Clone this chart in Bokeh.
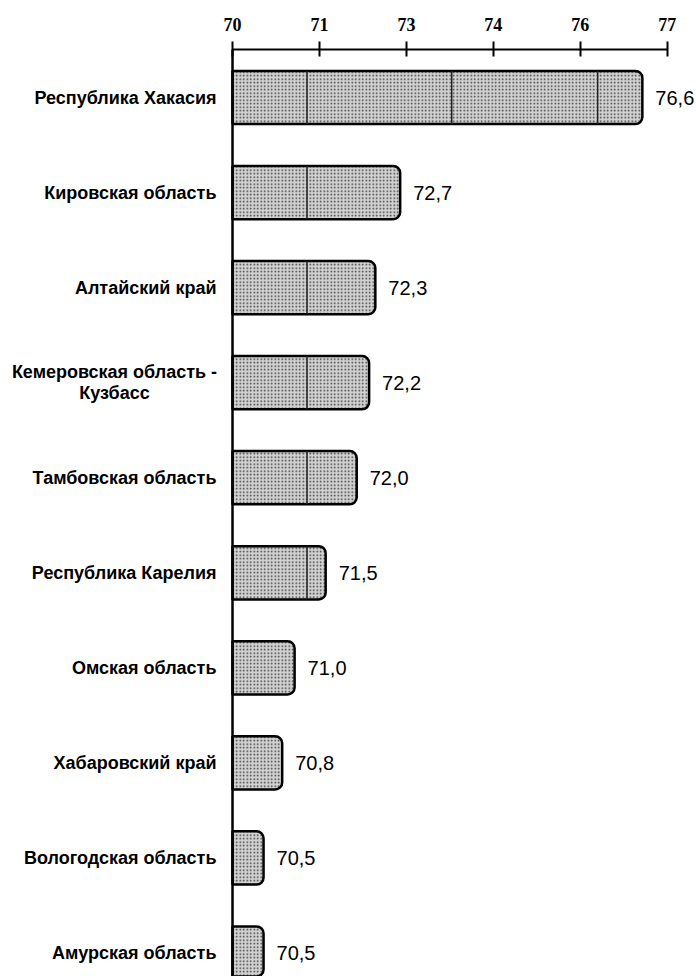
from bokeh.plotting import figure
from bokeh.models import ColumnDataSource, LabelSet, FixedTicker, Range1d, Span
from bokeh.embed import file_html
from bokeh.resources import INLINE
from bokeh.core.properties import value

regions = [
    "Республика Хакасия",
    "Кировская область",
    "Алтайский край",
    "Кемеровская область -\nКузбасс",
    "Тамбовская область",
    "Республика Карелия",
    "Омская область",
    "Хабаровский край",
    "Вологодская область",
    "Амурская область",
]
values = [76.6, 72.7, 72.3, 72.2, 72.0, 71.5, 71.0, 70.8, 70.5, 70.5]
x_ticks = [70, 71.4, 72.8, 74.2, 75.6, 77]
x_tick_labels = ["70", "71", "73", "74", "76", "77"]
inner_lines = [71.2, 73.53, 75.88]
base = 70

pos = list(range(1, len(regions) + 1))
labels = [f"{v:.1f}".replace(".", ",") for v in values]
src = ColumnDataSource(dict(y=pos, right=values, label=labels))

# single-line names: right-aligned next to the axis
s_y, s_name = [], []
# two-line names: each line centred under the other
m_y, m_name, m_off = [], [], []
LINE = 21
for yy, r in zip(pos, regions):
    parts = r.split("\n")
    if len(parts) == 1:
        s_y.append(yy); s_name.append(r)
    else:
        n = len(parts)
        for k, part in enumerate(parts):
            m_y.append(yy); m_name.append(part)
            m_off.append((n - 1) / 2 * LINE - k * LINE)
src_single = ColumnDataSource(dict(y=s_y, name=s_name, x=[base] * len(s_y)))
src_multi = ColumnDataSource(dict(y=m_y, name=m_name, x=[base] * len(m_y), off=m_off))

PX = 62.1  # pixels per unit on the x scale
W, H, LEFT, TOP = 696, 976, 232, 49
p = figure(width=W, height=H, output_backend="svg", toolbar_location=None,
           x_range=Range1d(base - LEFT / PX, base + (W - LEFT) / PX),
           y_range=Range1d(10.247, 0.495),
           x_axis_location="above", y_axis_location=None,
           min_border_left=0, min_border_top=TOP,
           min_border_right=0, min_border_bottom=0)
p.outline_line_color = None
p.grid.visible = False
p.background_fill_color = "white"

p.hbar(y="y", left=base, right="right", height=0.56, source=src,
       fill_color="#d2d2d2", line_color="black", line_width=2.5,
       hatch_pattern="dot", hatch_color="#3a3a3a", hatch_scale=3.5, hatch_weight=1.6,
       border_radius=(0, 7, 7, 0))

# thin vertical seams inside the bars
xs0, xs1, ys0, ys1 = [], [], [], []
for yy, v in zip(pos, values):
    for b in inner_lines:
        if v > b + 0.05:
            xs0.append(b); xs1.append(b); ys0.append(yy - 0.28); ys1.append(yy + 0.28)
p.segment(x0=xs0, y0=ys0, x1=xs1, y1=ys1, line_color="#222222", line_width=1.5)

# vertical baseline at 70
p.add_layout(Span(location=base, dimension="height", line_color="black", line_width=2.5))

lab = LabelSet(x="right", y="y", text="label", source=src, x_offset=13,
               text_baseline="middle", text_font=value("Liberation Sans"),
               text_font_size="20px", text_color="black")
p.add_layout(lab)

name_font = value("Liberation Sans")
lab_single = LabelSet(x="x", y="y", text="name", source=src_single, x_offset=-16,
                      text_align="right", text_baseline="middle", text_font=name_font,
                      text_font_style="bold", text_font_size="18px", text_color="black")
lab_multi = LabelSet(x="x", y="y", text="name", source=src_multi, x_offset=-118,
                     y_offset="off",
                     text_align="center", text_baseline="middle", text_font=name_font,
                     text_font_style="bold", text_font_size="18px", text_color="black")
p.add_layout(lab_single)
p.add_layout(lab_multi)

xa = p.xaxis[0]
xa.ticker = FixedTicker(ticks=x_ticks)
xa.major_label_overrides = {t: l for t, l in zip(x_ticks, x_tick_labels)}
xa.bounds = (70, 77)
xa.axis_line_width = 2
xa.major_tick_line_width = 2
xa.major_tick_in = 7
xa.major_tick_out = 8
xa.minor_tick_line_color = None
xa.major_label_standoff = 11
xa.major_label_text_font = "Liberation Serif"
xa.major_label_text_font_style = "bold"
xa.major_label_text_font_size = "18px"
xa.major_label_text_color = "black"

open("out.html", "w").write(file_html(p, INLINE))
